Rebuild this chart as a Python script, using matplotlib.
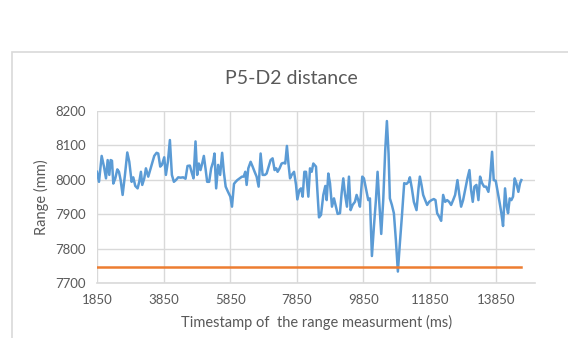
import matplotlib
matplotlib.use("Agg")
import matplotlib.pyplot as plt
from matplotlib.patches import Rectangle

times = [
    1850, 1910, 1990, 2060, 2120, 2170, 2220, 2260, 2300, 2340,
    2400, 2460, 2510, 2560, 2620, 2690, 2760, 2820, 2890, 2940,
    3000, 3070, 3120, 3170, 3210, 3270, 3320, 3390, 3440, 3510,
    3570, 3640, 3690, 3750, 3800, 3870, 3920, 3980, 4040, 4100,
    4160, 4220, 4290, 4360, 4440, 4510, 4570, 4640, 4690, 4750,
    4810, 4860, 4910, 4960, 5010, 5060, 5110, 5160, 5220, 5280,
    5340, 5380, 5430, 5490, 5550, 5610, 5660,
    5716, 5786, 5856, 5906, 5966, 6016, 6066, 6136, 6206, 6256,
    6306, 6346, 6396, 6466, 6526, 6586, 6646, 6706, 6766, 6826,
    6896, 6946, 7006, 7066, 7126, 7186, 7236, 7276, 7336, 7396,
    7456, 7506, 7556, 7606,
    7650, 7700, 7770, 7830, 7870, 7930, 7980, 8030, 8080, 8130,
    8200, 8250, 8300, 8350, 8430, 8470, 8520, 8580, 8650, 8710,
    8750, 8800, 8850, 8910, 8970, 9030, 9080, 9150, 9200, 9250,
    9300, 9360, 9420, 9470, 9530, 9600, 9650, 9700, 9750, 9820,
    9870, 9930, 10000, 10050, 10110, 10170, 10230, 10280, 10330, 10390,
    10450, 10510, 10560, 10610, 10650, 10710, 10770, 10830, 10890, 10950,
    11010, 11080, 11150, 11210, 11250, 11310, 11370, 11450, 11510, 11550,
    11600, 11650, 11710, 11770, 11830, 11900, 11970, 12020, 12070, 12130,
    12190, 12250, 12310, 12370, 12430, 12490, 12550, 12610, 12680, 12730,
    12790, 12850, 12920, 12980, 13040, 13090, 13140, 13190, 13250, 13310,
    13360, 13420, 13480, 13540, 13610, 13660, 13720, 13770, 13830, 13890,
    13950, 14000, 14050, 14110, 14160, 14200, 14250, 14300, 14350, 14400,
    14450, 14510, 14560, 14600,
]
ranges = [
    8023, 7994, 8069, 8038, 8004, 8057, 8014, 8057, 8055, 7989,
    8004, 8030, 8023, 7999, 7956, 8014, 8079, 8052, 7994, 8007,
    7982, 7975, 7994, 8023, 7985, 8004, 8033, 8009, 8026, 8049,
    8069, 8078, 8076, 8038, 8043, 8065, 8014, 8052, 8115, 8014,
    7994, 7999, 8007, 8006, 8007, 8003, 8040, 8041, 8023, 8004,
    8111, 8014, 8047, 8028, 8047, 8069, 8033, 7994, 7994, 8033,
    8052, 8076, 7975, 8043, 8014, 8078, 8023,
    7980, 7965, 7951, 7922, 7988, 7994, 7999, 8004, 8009, 8009,
    8023, 7985, 8033, 8052, 8038, 8023, 8009, 7980, 8076, 8014,
    8014, 8018, 8038, 8057, 8062, 8028, 8033, 8023, 8033, 8047,
    8049, 8047, 8098, 8043,
    8004, 8014, 8023, 7985, 7943, 7970, 7975, 7951, 8023, 8023,
    7951, 8033, 8023, 8047, 8038, 7970, 7891, 7898, 7956, 7982,
    7941, 8018, 7990, 7922, 7946, 7922, 7901, 7903, 7961, 8004,
    7959, 7922, 8009, 7912, 7927, 7936, 7956, 7941, 7922, 8009,
    8004, 7975, 7941, 7946, 7779, 7864, 7941, 8023, 7936, 7843,
    7941, 8086, 8170, 8076, 7946, 7927, 7903, 7825, 7734, 7816,
    7893, 7990, 7988, 7994, 8007, 7975, 7936, 7912, 7975, 8009,
    7985, 7956, 7941, 7927, 7936, 7941, 7944, 7941, 7903, 7893,
    7881, 7956, 7936, 7941, 7936, 7927, 7941, 7956, 7999, 7961,
    7922, 7941, 7975, 8004, 8028, 7970, 7936, 7980, 7985, 7941,
    8009, 7990, 7980, 7980, 7965, 8004, 8081, 7999, 7997, 7965,
    7932, 7903, 7866, 7975, 7922, 7903, 7946, 7941, 7951, 8004,
    7990, 7965, 7990, 7999,
]
threshold = 7748

x_ticks = [1850, 3850, 5850, 7850, 9850, 11850, 13850]
y_ticks = [7700, 7800, 7900, 8000, 8100, 8200]

plt.rcParams["font.family"] = ["Lato", "DejaVu Sans"]
text_col = "#595959"
grid_col = "#d9d9d9"

W, H = 568, 338
fig = plt.figure(figsize=(W / 100, H / 100), dpi=100)

# outer chart frame (cut off at right and bottom)
fig.patches.append(Rectangle((12 / W, -0.1), 1.2, 1.1 - 52 / H, transform=fig.transFigure,
                             fill=False, edgecolor=grid_col, linewidth=1.2))

ax = fig.add_axes([97 / W, 1 - 283.3 / H, (535 - 97) / W, (283.3 - 110.7) / H])
ax.plot(times, ranges, color="#5B9BD5", linewidth=1.8, solid_joinstyle="round")
ax.plot([times[0], times[-1]], [threshold, threshold], color="#ED7D31", linewidth=1.8)

ax.set_xlim(1850, 15010)
ax.set_ylim(7700, 8200)
ax.set_xticks(x_ticks)
ax.set_yticks(y_ticks)
ax.grid(True, color=grid_col, linewidth=1.0)
ax.set_axisbelow(True)
for s in ["top", "right", "left"]:
    ax.spines[s].set_visible(False)
ax.spines["bottom"].set_color(grid_col)
ax.spines["bottom"].set_linewidth(1.2)
ax.tick_params(length=0, colors=text_col, labelsize=9.5)
ax.tick_params(axis="x", pad=8)
ax.tick_params(axis="y", pad=8)

fig.text(291 / W, 1 - 79 / H, "P5-D2 distance", ha="center", va="center",
         fontsize=14, color=text_col)
fig.text(317 / W, 1 - 322 / H, "Timestamp of  the range measurment (ms)", ha="center",
         va="center", fontsize=10.5, color=text_col)
fig.text(41 / W, 1 - 197 / H, "Range (mm)", ha="center", va="center", rotation=90,
         fontsize=10.5, color=text_col)

fig.savefig("out.png", dpi=100)
